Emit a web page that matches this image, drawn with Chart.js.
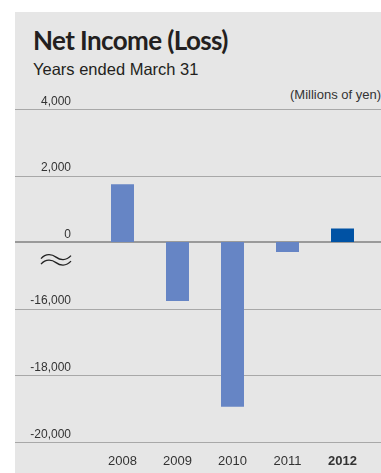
<!DOCTYPE html>
<html>
<head>
<meta charset="utf-8">
<script src="https://cdn.jsdelivr.net/npm/chart.js@4.4.0/dist/chart.umd.min.js"></script>
<style>
  html, body { margin: 0; padding: 0; background: #fff; }
  body { width: 381px; height: 473px; position: relative; overflow: hidden; }
  #panel { position: absolute; left: 15px; top: 12px; width: 366px; height: 461px; background: #e6e6e6; }
  #title { position: absolute; left: 33px; top: 27px; font: 700 26px Lato, sans-serif; line-height: 26px; letter-spacing: -0.6px; color: #231f20; white-space: nowrap; }
  #subtitle { position: absolute; left: 33px; top: 61px; font: 16.5px "Liberation Sans", Arial, sans-serif; line-height: 16.5px; color: #231f20; white-space: nowrap; }
  #unit { position: absolute; right: 0; top: 88px; font: 13px "Liberation Sans", Arial, sans-serif; line-height: 13px; color: #333; white-space: nowrap; }
  #wrap { position: absolute; left: 0; top: 0; width: 381px; height: 473px; }
</style>
</head>
<body>
<div id="panel"></div>
<div id="title">Net Income (Loss)</div>
<div id="subtitle">Years ended March 31</div>
<div id="unit">(Millions of yen)</div>
<div id="wrap"><canvas id="chart" width="381" height="473"></canvas></div>
<script>
document.addEventListener('DOMContentLoaded', function () {
    // Data (millions of yen)
    const years = ['2008', '2009', '2010', '2011', '2012'];
    const netIncome = [1740, -15770, -18950, -300, 410];
    const yTicks = [4000, 2000, 0, -16000, -18000, -20000];
    const barColors = ['#6685c5', '#6685c5', '#6685c5', '#6685c5', '#0052a4'];

    // axis is broken between 0 and -14,000
    const breakGap = 14000;
    function toAxis(v) {
        return v <= -breakGap ? v + breakGap : v;
    }
    function fromAxis(v) {
        return v < 0 ? v - breakGap : v;
    }

    // Gridlines across the whole panel + break mark
    const panelPlugin = {
        id: 'panel',
        beforeDatasetsDraw(chart) {
            const ctx = chart.ctx;
            const y = chart.scales.y;
            ctx.save();
            y.ticks.forEach(function (t) {
                const py = Math.round(y.getPixelForValue(t.value));
                if (t.value === 0) {
                    ctx.strokeStyle = '#9a9a9a';
                    ctx.lineWidth = 2;
                    ctx.beginPath();
                    ctx.moveTo(15, py);
                    ctx.lineTo(381, py);
                    ctx.stroke();
                } else {
                    ctx.strokeStyle = '#a8a8a8';
                    ctx.lineWidth = 1;
                    ctx.beginPath();
                    ctx.moveTo(15, py + 0.5);
                    ctx.lineTo(381, py + 0.5);
                    ctx.stroke();
                }
            });
            // the "≈" break symbol
            const zy = y.getPixelForValue(0);
            ctx.strokeStyle = '#222';
            ctx.lineWidth = 1.3;
            [15, 20.5].forEach(function (dy) {
                const cy = zy + dy;
                ctx.beginPath();
                ctx.moveTo(41, cy + 1.5);
                ctx.bezierCurveTo(46, cy - 4, 52, cy - 3, 56, cy);
                ctx.bezierCurveTo(60, cy + 3, 66, cy + 4, 71, cy - 1.5);
                ctx.stroke();
            });
            ctx.restore();
        }
    };

    const ctx = document.getElementById('chart').getContext('2d');
    const netChart = new Chart(ctx, {
        type: 'bar',
        data: {
            labels: years,
            datasets: [{
                label: 'Net Income (Loss)',
                data: netIncome.map(toAxis),
                backgroundColor: barColors,
                borderWidth: 0,
                barPercentage: 0.418,
                categoryPercentage: 1.0
            }]
        },
        options: {
            responsive: false,
            animation: false,
            events: [],
            layout: { padding: { left: 0, right: 11, top: 109, bottom: 0 } },
            plugins: {
                legend: { display: false },
                tooltip: { enabled: false }
            },
            scales: {
                x: {
                    grid: { display: false, drawTicks: false },
                    border: { display: false },
                    afterFit: function (scale) { scale.height = 30.5; },
                    ticks: {
                        padding: 12,
                        color: '#333',
                        font: function (c) {
                            return {
                                family: '"Liberation Sans", Arial, sans-serif',
                                size: 13,
                                weight: c.index === years.length - 1 ? 'bold' : 'normal'
                            };
                        }
                    }
                },
                y: {
                    min: toAxis(-20000),
                    max: 4000,
                    grid: { display: false, drawTicks: false },
                    border: { display: false },
                    afterFit: function (scale) { scale.width = 95; },
                    afterBuildTicks: function (scale) {
                        scale.ticks = yTicks.map(function (v) { return { value: toAxis(v) }; });
                    },
                    ticks: {
                        padding: 24,
                        labelOffset: -7.5,
                        color: '#333',
                        font: { family: '"Liberation Sans", Arial, sans-serif', size: 12 },
                        callback: function (value) {
                            return fromAxis(value).toLocaleString('en-US');
                        }
                    }
                }
            }
        },
        plugins: [panelPlugin]
    });
});
</script>
</body>
</html>
